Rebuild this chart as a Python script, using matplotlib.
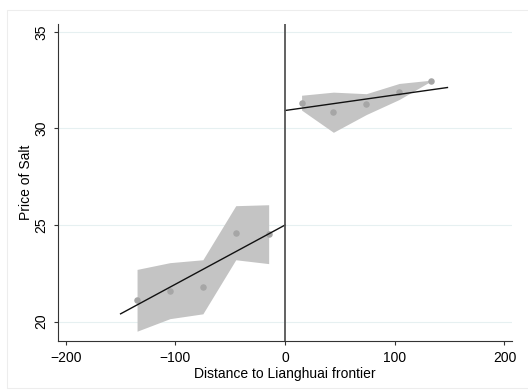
import matplotlib
matplotlib.use('Agg')
import matplotlib.pyplot as plt
from matplotlib.patches import Rectangle

plt.rcParams['font.family'] = ['Liberation Sans', 'DejaVu Sans']

# binned means, left and right of the frontier
left_x = [-135, -105, -75, -45, -15]
left_y = [21.1, 21.6, 21.8, 24.6, 24.55]
left_lo = [19.5, 20.15, 20.4, 23.2, 23.0]
left_hi = [22.7, 23.05, 23.2, 26.0, 26.05]

right_x = [15, 44, 74, 104, 133]
right_y = [31.3, 30.83, 31.25, 31.9, 32.45]
right_lo = [30.95, 29.8, 30.72, 31.5, 32.45]
right_hi = [31.72, 31.88, 31.8, 32.33, 32.5]

# linear fits
fit_left_x = [-150, 0]
fit_left_y = [20.4, 25.0]
fit_right_x = [0, 148]
fit_right_y = [30.93, 32.12]

xticks = [-200, -100, 0, 100, 200]
yticks = [20, 25, 30, 35]

fig = plt.figure(figsize=(5.28, 3.90), dpi=100)
ax = fig.add_axes([0.110, 0.126, 0.860, 0.812])

# faint outer frame
fig.patches.append(Rectangle((7 / 528, 0.005), 0.99, 0.97, transform=fig.transFigure,
                             fill=False, edgecolor='#ededed', linewidth=0.8))

band_c = '#c4c4c4'
dot_c = '#a6a6a6'
ax.fill_between(left_x, left_lo, left_hi, color=band_c, linewidth=0, zorder=2)
ax.fill_between(right_x, right_lo, right_hi, color=band_c, linewidth=0, zorder=2)
ax.scatter(left_x, left_y, s=22, color=dot_c, zorder=3, linewidths=0)
ax.scatter(right_x, right_y, s=22, color=dot_c, zorder=3, linewidths=0)
ax.plot(fit_left_x, fit_left_y, color='#111111', linewidth=1.0, zorder=4)
ax.plot(fit_right_x, fit_right_y, color='#111111', linewidth=1.0, zorder=4)
ax.axvline(0, color='#555555', linewidth=1.3, zorder=5)

ax.set_xlim(-207, 207)
ax.set_ylim(19.0, 35.4)
ax.set_xticks(xticks)
ax.set_yticks(yticks)
ax.tick_params(axis='both', labelsize=10, length=3, width=0.8, color='#333333', pad=4)
for lab in ax.get_yticklabels():
    lab.set_rotation(90)
    lab.set_va('center')
ax.grid(axis='y', color='#e6f0f1', linewidth=0.8)
ax.set_axisbelow(True)
for s in ['top', 'right']:
    ax.spines[s].set_visible(False)
for s in ['left', 'bottom']:
    ax.spines[s].set_color('#333333')
    ax.spines[s].set_linewidth(0.8)

ax.set_xlabel('Distance to Lianghuai frontier', fontsize=10, labelpad=2)
ax.set_ylabel('Price of Salt', fontsize=10)
ax.yaxis.set_label_coords(-0.055, 0.5)

fig.savefig('out.png', dpi=100)
